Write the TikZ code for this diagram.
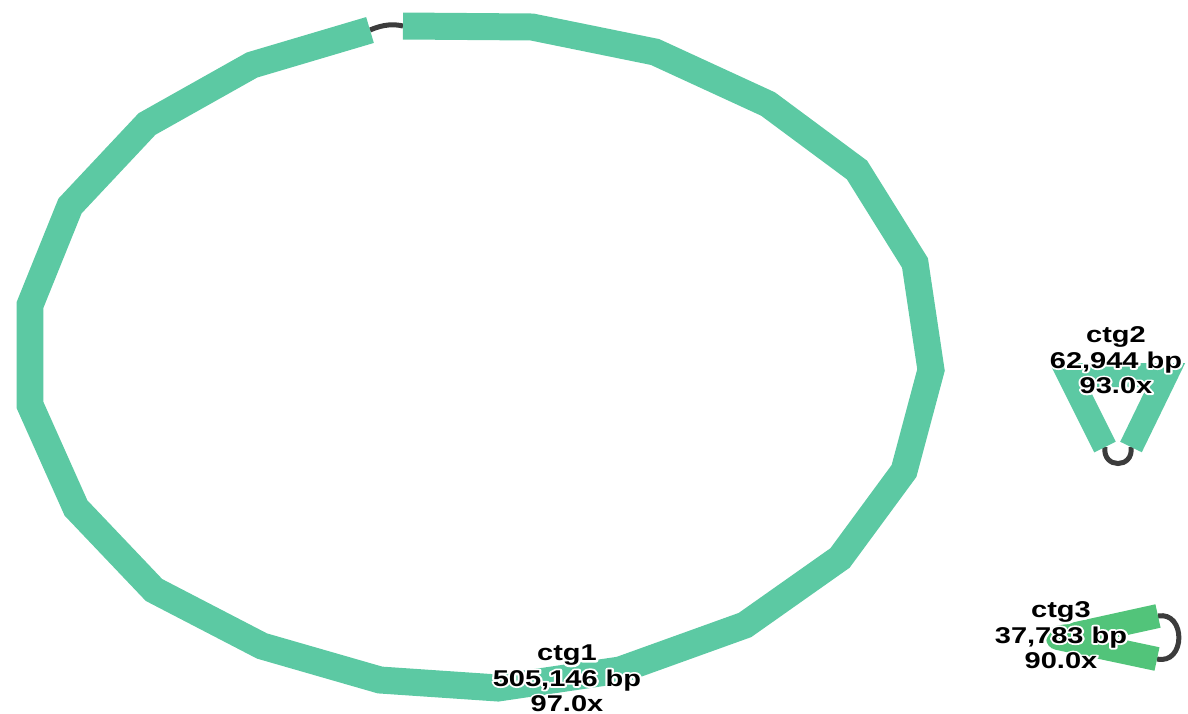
\documentclass[tikz,border=0pt]{standalone}
\usepackage{fontspec}
\setmainfont{Liberation Sans}
\usepackage{graphicx}
\usepackage{tikz}
\usetikzlibrary{calc}
\definecolor{ringc}{HTML}{5CC9A3}
\definecolor{lgreen}{HTML}{52C47A}
\definecolor{edgec}{HTML}{3C3C3C}
% white outline: stroke the glyphs only
\newcommand{\halo}{\special{pdf:literal 1 Tr 1 1 1 RG 2.0 w 1 j}}
\newcommand{\ctgbox}[4]{%
  \scalebox{1.27}[1]{#1\begin{tabular}{@{}c@{}}#2\\#3\\#4\end{tabular}}}
\newcommand{\ctglabel}[5]{%
  \node[ctgtext] at #2 {\ctgbox{\halo}{#3}{#4}{#5}};
  \node[ctgtext] (#1) at #2 {\ctgbox{}{#3}{#4}{#5}};
}

\begin{document}
\begin{tikzpicture}[x=0.02cm, y=-0.02cm,
    ctgband/.style={ringc, line width=0.54cm},
    edgeline/.style={edgec, line width=0.1cm},
    ctgtext/.style={inner sep=0pt,
      font=\fontsize{13}{14.4}\selectfont\bfseries}]
  \useasboundingbox (0,0) rectangle (1188,714);
  % ctg1, the big circle
  \coordinate (c1s) at (403,26);
  \coordinate (c1e) at (370,30);
  \draw[edgeline] (c1e) .. controls (384,24) and (394,24) .. (c1s);
  \draw[ctgband] (c1s) -- (532,27) -- (655,52) -- (768,104) -- (857,170)
    -- (915,263) -- (931,370) -- (904,471) -- (840,558) -- (745,625)
    -- (620,670) -- (498,688) -- (380,680) -- (262,646) -- (154,590)
    -- (76,508) -- (30,405) -- (30,305) -- (70,206) -- (147,124)
    -- (252,65) -- (c1e);
  % ctg2
  \coordinate (c2s) at (1131,447);
  \coordinate (c2e) at (1105,447);
  \draw[edgeline] (c2e) .. controls (1102,469) and (1134,469) .. (c2s);
  \draw[ctgband, line width=0.48cm] (c2s) -- (1166,375) -- (1069,375) -- (c2e);
  % ctg3
  \coordinate (c3s) at (1157,659);
  \coordinate (c3e) at (1158,616);
  \draw[edgeline] (c3e) .. controls (1186,611) and (1186,665) .. (c3s);
  \draw[ctgband, lgreen, line width=0.48cm, line join=round]
    (c3s) -- (1058,638) -- (c3e);
  % labels
  \ctglabel{l1}{(567,681)}{ctg1}{505,146 bp}{97.0x}
  \ctglabel{l2}{(1116,363)}{ctg2}{62,944 bp}{93.0x}
  \ctglabel{l3}{(1061,638)}{ctg3}{37,783 bp}{90.0x}
\end{tikzpicture}
\end{document}
